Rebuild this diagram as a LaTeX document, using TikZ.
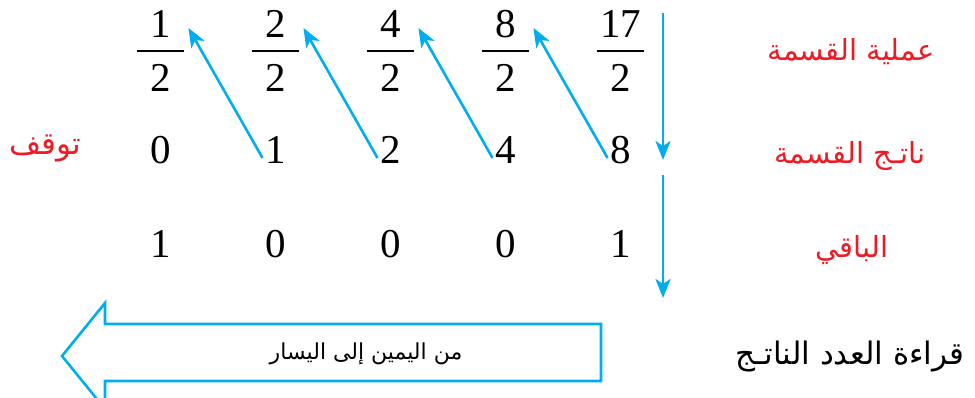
\documentclass[tikz,border=0pt]{standalone}
\usepackage{fontspec}
\setmainfont{Liberation Serif}
\newfontfamily\arabicfont[Script=Arabic]{DejaVu Sans}
\TeXXeTstate=1
\usetikzlibrary{arrows.meta}
\definecolor{cyanb}{RGB}{0,174,239}
\definecolor{redl}{RGB}{237,28,36}
\tikzset{
  digit/.style={inner sep=0pt, anchor=base, font=\fontsize{41}{48}\selectfont},
  fracbar/.style={line width=1.8pt, black},
  arr/.style={draw=cyanb, line width=2.6pt, -{Stealth[length=19pt,width=15pt,inset=5pt]}},
  redlabel/.style={inner sep=0pt, text=redl, font=\arabicfont\fontsize{29}{34}\selectfont},
  blacklabel/.style={inner sep=0pt, text=black, font=\arabicfont\fontsize{31}{36}\selectfont},
  bigarrow/.style={draw=cyanb, line width=2.6pt, line join=miter}
}
\begin{document}
\begin{tikzpicture}[x=1pt,y=-1pt]
\useasboundingbox (0,0) rectangle (975,398);
% numerators and denominators
\foreach \i/\n/\cx in {0/1/160.5,1/2/275.5,2/4/390.5,3/8/505.5,4/17/620.5}{
  \node[digit] (n\i) at (\cx,38) {\n};
  \node[digit] (d\i) at (\cx,92) {2};
  \coordinate (bl\i) at (\cx-23.5,51);
  \coordinate (br\i) at (\cx+23.5,51);
  \draw[fracbar] (bl\i) -- (br\i);
}
% quotients
\foreach \i/\n/\cx in {0/0/160.5,1/1/275.5,2/2/390.5,3/4/505.5,4/8/620.5}{
  \node[digit] (q\i) at (\cx,164) {\n};
}
% remainders
\foreach \i/\n/\cx in {0/1/160.5,1/0/275.5,2/0/390.5,3/0/505.5,4/1/620.5}{
  \node[digit] (r\i) at (\cx,258) {\n};
}
% diagonal arrows
\foreach \i/\j in {1/0,2/1,3/2,4/3}{
  \draw[arr] ([shift={(-2.5,-6)}]q\i.base west) -- ([shift={(17.5,-10)}]n\j.base east);
}
% vertical arrows
\coordinate (v1a) at (663,13);
\coordinate (v1b) at (663,160);
\coordinate (v2a) at (663,175);
\coordinate (v2b) at (663,298);
\draw[arr] (v1a) -- (v1b);
\draw[arr] (v2a) -- (v2b);
% red labels
\node[redlabel] (lop) at (851,52) {\beginR عملية القسمة\endR};
\node[redlabel] (lq) at (850,156) {\beginR ناتـج القسمة\endR};
\node[redlabel] (lr) at (852,250) {\beginR الباقي\endR};
\node[redlabel, font=\arabicfont\fontsize{31}{36}\selectfont] (stop) at (45,148) {\beginR توقف\endR};
% big arrow
\draw[bigarrow] (601,324) -- (105,324) -- (105,303) -- (62,356) -- (105,409) -- (105,381) -- (601,381) -- cycle;
\node[inner sep=0pt, font=\arabicfont\fontsize{22}{26}\selectfont] (dir) at (366,354) {\beginR من اليمين إلى اليسار\endR};
\node[blacklabel] (read) at (850,357) {\beginR قراءة العدد الناتـج\endR};
\end{tikzpicture}
\end{document}
